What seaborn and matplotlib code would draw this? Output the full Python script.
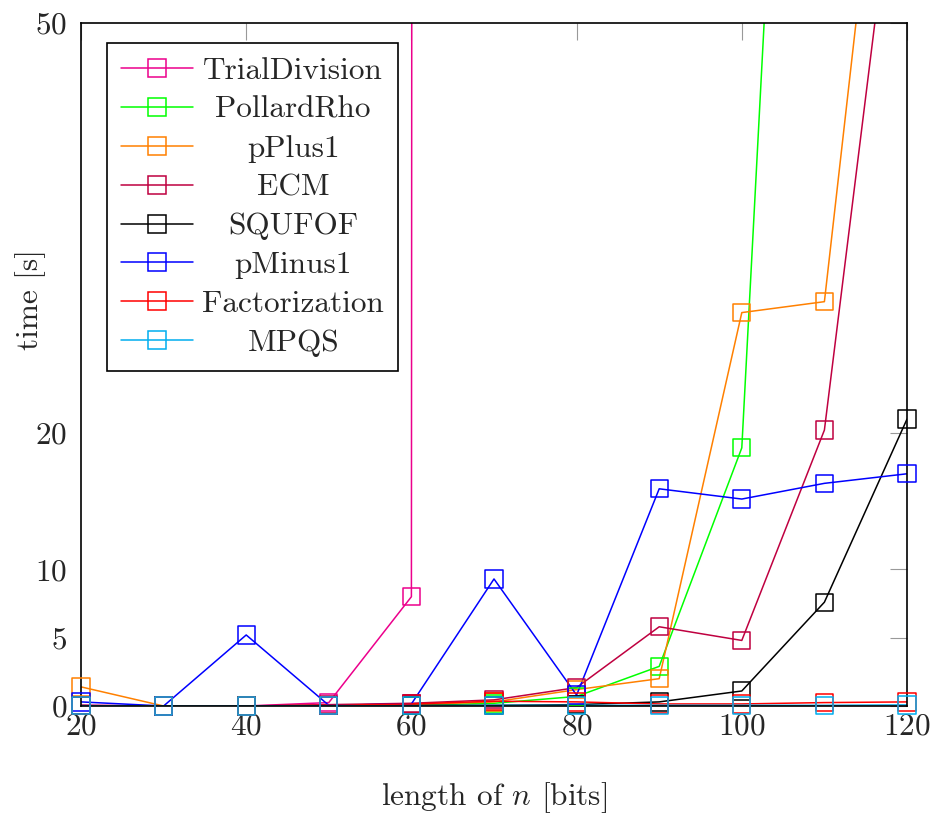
import numpy as np
import pandas as pd
import matplotlib
matplotlib.use("Agg")
import matplotlib.pyplot as plt
from matplotlib.lines import Line2D
import seaborn as sns

nan = np.nan
bits = [20, 30, 40, 50, 60, 70, 80, 90, 100, 110, 120]

trial_division = [0.05, 0.0, 0.0, 0.25, 8.0, 10000, nan, nan, nan, nan, nan]
pollard_rho = [0.02, 0.0, 0.0, 0.02, 0.05, 0.2, 0.7, 2.9, 18.9, 134, nan]
p_plus1 = [1.4, 0.0, 0.0, 0.05, 0.1, 0.3, 1.2, 2.0, 28.8, 29.6, 83]
ecm = [0.05, 0.0, 0.0, 0.1, 0.2, 0.45, 1.35, 5.8, 4.8, 20.2, 69]
squfof = [0.02, 0.0, 0.0, 0.02, 0.05, 0.05, 0.1, 0.3, 1.1, 7.6, 21.0]
p_minus1 = [0.3, 0.0, 5.2, 0.05, 0.15, 9.3, 0.8, 15.9, 15.15, 16.3, 17.0]
factorization = [0.02, 0.0, 0.0, 0.05, 0.15, 0.35, 0.3, 0.15, 0.15, 0.25, 0.3]
mpqs = [0.02, 0.0, 0.0, 0.02, 0.02, 0.05, 0.05, 0.05, 0.05, 0.05, 0.08]

names = ["TrialDivision", "PollardRho", "pPlus1", "ECM", "SQUFOF",
         "pMinus1", "Factorization", "MPQS"]
series = [trial_division, pollard_rho, p_plus1, ecm, squfof,
          p_minus1, factorization, mpqs]
colors = ["#EC008C", "#00FF00", "#FF8000", "#BF0040", "#000000",
          "#0000FF", "#FF0000", "#00AEEF"]

y_ticks = [0, 5, 10, 20, 50]

FS = 22.5

sns.set_style("white")
plt.rcParams["font.family"] = ["cmr10", "DejaVu Serif"]
plt.rcParams["mathtext.fontset"] = "cm"
plt.rcParams["axes.formatter.use_mathtext"] = True
plt.rcParams["font.size"] = FS

fig = plt.figure(figsize=(9.33, 8.17), dpi=100)
ax = fig.add_axes([81 / 933, 1 - 706 / 817, 826 / 933, 683 / 817])

lw = 1.1
handles = []
for name, vals, c in zip(names, series, colors):
    df = pd.DataFrame({"bits": bits, "time": vals}).dropna()
    sns.lineplot(data=df, x="bits", y="time", color=c, linewidth=lw, ax=ax,
                 legend=False, errorbar=None)
    # markers are not clipped (like pgfplots), lines are
    shown = df[df["time"] <= 50]
    sns.scatterplot(data=shown, x="bits", y="time", marker="s", s=155,
                    facecolor="none", edgecolor=c, linewidth=1.1, ax=ax,
                    legend=False, clip_on=False, zorder=3)
    handles.append(Line2D([], [], color=c, lw=lw, marker="s", markersize=12.5,
                          mfc="none", mec=c, mew=1.1))

ax.set_xlim(20, 120)
ax.set_ylim(0, 50)
ax.set_xticks([20, 40, 60, 80, 100, 120])
ax.set_yticks(y_ticks)
ax.tick_params(axis="both", direction="in", length=12, width=0.8,
               color="#999999", top=True, right=True, labelsize=FS)
ax.tick_params(axis="y", pad=10)
ax.tick_params(axis="x", pad=5)
for s in ax.spines.values():
    s.set_color("black")
    s.set_linewidth(1.2)

ax.set_xlabel("length of $n$ [bits]", va="center")
ax.set_ylabel("time [s]")
ax.xaxis.set_label_coords(0.5, -(798 - 706) / 683)
ax.yaxis.set_label_coords(-(81 - 46) / 826, (706 - 300) / 683)

leg = ax.legend(handles, names, loc="upper left",
                bbox_to_anchor=(26 / 826, (706 - 43) / 683),
                borderaxespad=0, fancybox=False, framealpha=1,
                edgecolor="black", handlelength=2.3, handletextpad=0.3,
                labelspacing=0.35, borderpad=0.45, fontsize=FS)
leg.get_frame().set_linewidth(1.2)

# center legend texts like pgfplots
fig.canvas.draw()
r = fig.canvas.get_renderer()
texts = leg.get_texts()
widths = [t.get_window_extent(r).width for t in texts]
wmax = max(widths)
for t, w in zip(texts, widths):
    t.set_x((wmax - w) / 2)

fig.savefig("out.png", dpi=100)
